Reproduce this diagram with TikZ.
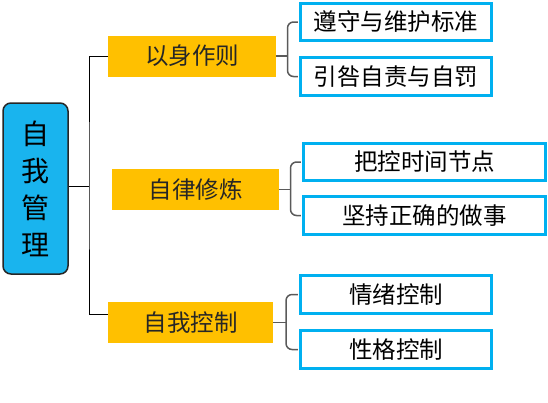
\documentclass[tikz,border=0pt]{standalone}
\usepackage{fontspec}
\setmainfont{Noto Sans CJK SC}
\usetikzlibrary{positioning,calc}
\definecolor{rootc}{RGB}{25,180,238}
\definecolor{topicc}{RGB}{255,192,0}
\definecolor{leafc}{RGB}{0,176,240}
\definecolor{bracec}{RGB}{90,90,90}

\begin{document}
\begin{tikzpicture}[
  x=1pt, y=-1pt,
  rootbox/.style={
    rectangle, rounded corners=8pt, draw=black!85, line width=1.5pt,
    fill=rootc, minimum width=65pt, minimum height=171pt, inner sep=0pt,
    align=center, font=\fontsize{28}{37}\selectfont
  },
  topic/.style={
    rectangle, fill=topicc, inner sep=0pt, minimum height=41pt,
    text=black!85, font=\fontsize{23.5}{26}\selectfont
  },
  leaf/.style={
    rectangle, draw=leafc, line width=3.3pt, fill=white, inner sep=0pt,
    minimum width=#1, minimum height=37.5pt,
    font=\fontsize{23.5}{26}\selectfont
  },
  link/.style={draw=black, line width=1pt},
  brc/.style={draw=bracec, line width=1.5pt, rounded corners=6pt},
]
\useasboundingbox (0,0) rectangle (548,402);

% ---- root ----
\node[rootbox] (root) at (35.5, 188.5) {自\\我\\管\\理};

% ---- topics ----
\node[topic, minimum width=168pt] (self)  at (192, 56)    {以身作则};
\node[topic, minimum width=167pt] (disc)  at (195.5, 189.5) {自律修炼};
\node[topic, minimum width=165pt] (ctrl)  at (190.5, 322.5) {自我控制};

% ---- leaves ----
\node[leaf=191pt] (std)   at (396, 22)    {遵守与维护标准};
\node[leaf=191pt] (blame) at (396, 76.5)  {引咎自责与自罚};
\node[leaf=242pt] (time)  at (424.5, 162) {把控时间节点};
\node[leaf=242pt] (right) at (424.5, 215.5) {坚持正确的做事};
\node[leaf=191pt] (emo)   at (396, 294.5) {情绪控制};
\node[leaf=191pt] (char)  at (396, 349.5) {性格控制};

% ---- trunk from root ----
\coordinate (trunk) at (89, 186);
\draw[link] (root.east |- trunk) -- (trunk);
\draw[link] (self.west) -| (trunk) |- ([yshift=8.5pt]ctrl.west);

% ---- braces ----
\foreach \p/\a/\b in {self/std/blame, disc/time/right, ctrl/emo/char} {
  \coordinate (m) at ($(\p.east)!0.5!(\a.west |- \p.east)$);
  \draw[brc] ([xshift=-1pt]\a.west) -| (m) |- ([xshift=-1pt]\b.west);
  \draw[brc] (\p.east) -- (m);
}

\end{tikzpicture}
\end{document}
